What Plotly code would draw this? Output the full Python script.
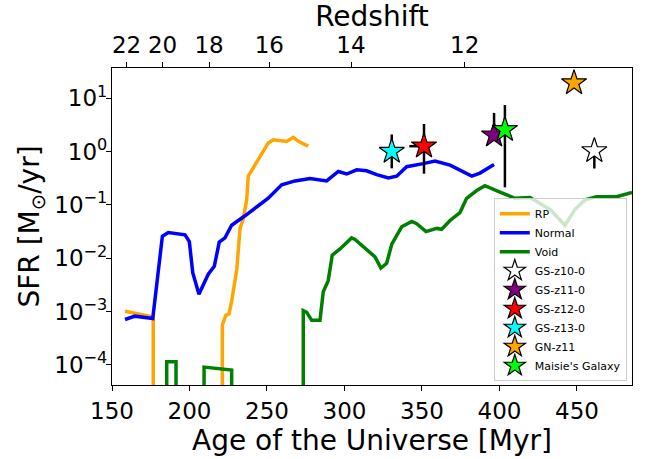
import numpy as np
import plotly.graph_objects as go

# ---------------- data ----------------
rp_age = [158.4, 176.6, 176.6, 221.2, 221.2, 223.4, 225.5, 227.2, 230.5, 232.6, 234.7,
          236.9, 237.9, 243.4, 246.6, 250.8, 254.1, 262.7, 267.0, 270.2, 276.6]
rp_sfr = [1.01e-3, 7.9e-4, 0, 0, 5.6e-4, 8.5e-4, 9.1e-4, 1.56e-3, 6.1e-3, 0.0362, 0.0546,
          0.124, 0.345, 0.637, 0.895, 1.45, 1.66, 1.55, 1.85, 1.55, 1.26]

normal_age = [158.4, 164.8, 176.3, 182.5, 186.3, 197.1, 199.9, 202.1, 206.1, 212.1,
              216.0, 219.2, 222.9, 227.2, 235.8, 244.4, 250.8, 259.5, 268.1, 277.7,
              288.5, 296.0, 301.4, 307.9, 314.3, 320.8, 328.3, 333.7, 340.1, 350.8,
              358.4, 368.1, 374.5, 382.1, 387.4, 396.5]
normal_sfr = [7.1e-4, 8.2e-4, 7.4e-4, 0.0258, 0.0303, 0.0275, 0.0204, 0.00535, 0.00212, 0.0050,
              0.00703, 0.0201, 0.0240, 0.0414, 0.0624, 0.094, 0.133, 0.238, 0.281, 0.313,
              0.281, 0.423, 0.379, 0.454, 0.435, 0.370, 0.321, 0.345, 0.519, 0.594,
              0.664, 0.557, 0.454, 0.345, 0.395, 0.570]

void_age = [185.3, 185.3, 191.3, 191.3, 209.4, 209.4, 227.2, 227.2, 273.4, 273.4,
            275.6, 278.8, 284.2, 286.3, 289.5, 292.1, 297.1, 304.6, 306.8, 314.3,
            319.7, 323.5, 327.2, 330.5, 336.9, 343.4, 346.6, 352.6, 359.5, 362.7,
            368.1, 374.5, 378.8, 385.3, 390.6, 400.3, 404.6, 410.0, 419.7, 432.6,
            442.3, 448.7, 455.2, 462.7, 475.6, 485.5]
void_sfr = [0, 1.15e-4, 1.15e-4, 0, 0, 9.1e-5, 8.0e-5, 0, 0, 1.04e-3,
            9.7e-4, 6.9e-4, 6.9e-4, 2.36e-3, 3.8e-3, 0.0114, 0.0149, 0.0240, 0.0224, 0.0149,
            0.0106, 0.00656, 0.00805, 0.0183, 0.0388, 0.0489, 0.0445, 0.0316, 0.0362, 0.0348,
            0.0509, 0.0718, 0.133, 0.186, 0.229, 0.174, 0.152, 0.133, 0.138, 0.0822,
            0.0414, 0.0822, 0.124, 0.142, 0.142, 0.172]

gal_names = ["GS-z10-0", "GS-z11-0", "GS-z12-0", "GS-z13-0", "GN-z11", "Maisie's Galaxy"]
gal_colors = ["white", "purple", "red", "cyan", "orange", "lime"]
gal_age = [461.2, 396.5, 351.3, 330.5, 448.1, 403.5]
gal_sfr = [1.03, 2.03, 1.26, 1.0, 19.3, 2.57]
gal_sfr_hi = [1.66, 5.3, 3.28, 2.09, 19.3, 7.45]
gal_sfr_lo = [0.48, 1.6, 0.385, 0.484, 19.3, 0.213]
gal_age_lo = [461.2, 396.5, 341.8, 330.5, 448.1, 403.5]
gal_age_hi = [461.2, 396.5, 354.3, 330.5, 448.1, 403.5]

z_ticks = [22, 20, 18, 16, 14, 12]
z_tick_age = [159.4, 182.6, 212.6, 251.5, 304.2, 377.6]

ytick_exp = [-4, -3, -2, -1, 0, 1]

FLOOR = 1e-9  # zero SFR drawn below the axis


def disp(v):
    v = np.asarray(v, dtype=float)
    return np.where(v > 0, v, FLOOR)


FONT = "DejaVu Sans"
FS = 23
fig = go.Figure()

for name, ages, sfr, col in [("RP", rp_age, rp_sfr, "orange"),
                             ("Normal", normal_age, normal_sfr, "blue"),
                             ("Void", void_age, void_sfr, "green")]:
    fig.add_trace(go.Scatter(x=ages, y=disp(sfr), mode="lines", name=name,
                             line=dict(color=col, width=3.5)))

# error bars (separate, no legend)
for i in range(len(gal_names)):
    a, s = gal_age[i], gal_sfr[i]
    ey = dict(type="data", symmetric=False, array=[gal_sfr_hi[i] - s], arrayminus=[s - gal_sfr_lo[i]],
              color="black", thickness=2.5, width=0)
    ex = dict(type="data", symmetric=False, array=[gal_age_hi[i] - a], arrayminus=[a - gal_age_lo[i]],
              color="black", thickness=2.5, width=0)
    fig.add_trace(go.Scatter(x=[a], y=[s], mode="markers", marker=dict(size=1, opacity=0),
                             error_y=ey, error_x=ex, showlegend=False, hoverinfo="skip"))

# star markers drawn on the (overlaid, identical-range) top axis so they sit above everything
for i in range(len(gal_names)):
    fig.add_trace(go.Scatter(x=[gal_age[i]], y=[gal_sfr[i]], mode="markers", name=gal_names[i],
                             xaxis="x2", yaxis="y",
                             marker=dict(symbol="star", size=19, color=gal_colors[i],
                                         line=dict(color="black", width=1.2))))

xr = [150, 485.5]
fig.update_layout(
    width=654, height=459,
    margin=dict(l=112, r=22, t=61, b=64),
    paper_bgcolor="white", plot_bgcolor="white",
    font=dict(family=FONT, size=FS, color="black"),
    showlegend=True,
    legend=dict(x=0.99, xanchor="right", y=0.012, yanchor="bottom",
                bgcolor="rgba(255,255,255,0.8)", bordercolor="#cccccc", borderwidth=1,
                font=dict(size=11, family=FONT), tracegroupgap=0),
    xaxis=dict(range=xr, showgrid=False, zeroline=False, showline=True, linecolor="black",
               linewidth=1.1, mirror=True, ticks="outside", ticklen=5, tickcolor="black",
               tickvals=[150, 200, 250, 300, 350, 400, 450],
               title=dict(text="Age of the Universe [Myr]", standoff=4)),
    xaxis2=dict(range=xr, overlaying="x", anchor="y", side="top", showgrid=False, zeroline=False,
                showline=False, ticks="outside", ticklen=5, tickcolor="black",
                tickvals=z_tick_age, ticktext=[str(z) for z in z_ticks],
                title=dict(text="Redshift", standoff=0)),
    yaxis=dict(type="log", range=[-4.377, 1.566], showgrid=False, zeroline=False, showline=True,
               linecolor="black", linewidth=1.1, mirror=True, ticks="outside", ticklen=5,
               tickcolor="black", ticklabelstandoff=-6,
               tickvals=[10.0 ** e for e in ytick_exp],
               ticktext=["10<sup>" + (("\u2212" + str(-e)) if e < 0 else str(e)) + "</sup>" for e in ytick_exp],
               title=dict(text="SFR [M<sub>\u2299</sub>/yr]", standoff=6)),
)

fig.write_html("out.html")
